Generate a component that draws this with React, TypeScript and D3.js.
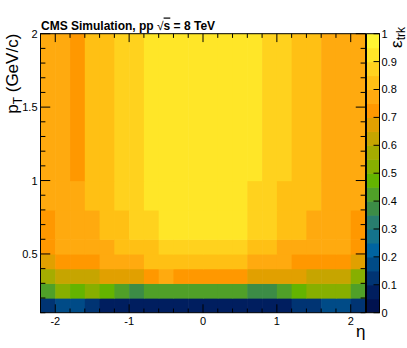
import React from "react";
import * as d3 from "d3";

// Bin edges
const etaEdges = [-2.2, -2.0, -1.8, -1.6, -1.4, -1.2, -1.0, -0.8, -0.6, -0.4, -0.2, 0.0, 0.2, 0.4, 0.6, 0.8, 1.0, 1.2, 1.4, 1.6, 1.8, 2.0, 2.2];
const ptEdges = [0.1, 0.2, 0.3, 0.4, 0.5, 0.6, 0.8, 1.0, 2.0];

// Efficiency per pT row (eta columns from -2.2 to 2.2)
const effPt0102 = [0.12, 0.17, 0.17, 0.12, 0.07, 0.07, 0.07, 0.07, 0.07, 0.07, 0.07, 0.07, 0.07, 0.07, 0.07, 0.07, 0.07, 0.12, 0.12, 0.17, 0.17, 0.12];
const effPt0203 = [0.42, 0.52, 0.47, 0.52, 0.47, 0.42, 0.37, 0.42, 0.42, 0.42, 0.42, 0.42, 0.42, 0.42, 0.37, 0.37, 0.42, 0.47, 0.52, 0.52, 0.52, 0.42];
const effPt0304 = [0.57, 0.62, 0.62, 0.62, 0.67, 0.67, 0.67, 0.72, 0.77, 0.72, 0.72, 0.72, 0.72, 0.72, 0.67, 0.67, 0.67, 0.67, 0.62, 0.62, 0.62, 0.52];
const effPt0405 = [0.67, 0.72, 0.72, 0.72, 0.77, 0.77, 0.77, 0.82, 0.82, 0.82, 0.82, 0.82, 0.82, 0.82, 0.77, 0.77, 0.77, 0.72, 0.72, 0.72, 0.72, 0.67];
const effPt0506 = [0.72, 0.77, 0.77, 0.77, 0.77, 0.82, 0.82, 0.82, 0.87, 0.87, 0.87, 0.87, 0.87, 0.87, 0.82, 0.82, 0.77, 0.77, 0.77, 0.77, 0.77, 0.72];
const effPt0608 = [0.72, 0.77, 0.77, 0.77, 0.82, 0.82, 0.87, 0.87, 0.92, 0.92, 0.92, 0.92, 0.92, 0.92, 0.87, 0.87, 0.82, 0.82, 0.77, 0.77, 0.77, 0.72];
const effPt0810 = [0.77, 0.77, 0.77, 0.82, 0.82, 0.87, 0.87, 0.92, 0.92, 0.92, 0.92, 0.92, 0.92, 0.92, 0.87, 0.87, 0.82, 0.82, 0.82, 0.77, 0.77, 0.77];
const effPt1020 = [0.77, 0.77, 0.72, 0.82, 0.82, 0.87, 0.87, 0.92, 0.92, 0.92, 0.92, 0.92, 0.92, 0.92, 0.92, 0.87, 0.87, 0.82, 0.82, 0.77, 0.77, 0.77];
const effRows = [effPt0102, effPt0203, effPt0304, effPt0405, effPt0506, effPt0608, effPt0810, effPt1020];

// Axis tick labels
const xTickValues = [-2, -1, 0, 1, 2];
const yTickValues = [0.5, 1, 1.5, 2];
const yTickLabels = ["0.5", "1", "1.5", "2"];
const zTickValues = [0, 0.1, 0.2, 0.3, 0.4, 0.5, 0.6, 0.7, 0.8, 0.9, 1];
const zTickLabels = ["0", "0.1", "0.2", "0.3", "0.4", "0.5", "0.6", "0.7", "0.8", "0.9", "1"];

// 20-level palette
const palette = [
  "#00124f", "#001e5f", "#003473", "#004b87", "#0064a0",
  "#14738c", "#287d6e", "#3c8c46", "#50a028", "#64b400",
  "#87af00", "#a5ac00", "#c6a500", "#e1a000", "#ff9800",
  "#ffaa0f", "#ffc014", "#ffd21e", "#ffe628", "#fff532",
];

export default function App() {
  const W = 407, H = 348;
  const L = 40.5, R = 365.5, T = 33.7, B = 312.7;
  const CBL = 366.5, CBR = 379.5;
  const font = "'Liberation Sans', Arial, Helvetica, sans-serif";

  const x = d3.scaleLinear().domain([-2.2, 2.2]).range([L, R]);
  const y = d3.scaleLinear().domain([0.1, 2]).range([B, T]);
  const z = d3.scaleLinear().domain([0, 1]).range([B, T]);
  const color = d3.scaleQuantize<string>().domain([0, 1]).range(palette);

  const xMinor = d3.range(0, 23).map((i) => -2.2 + i * 0.2);
  const yMinor = d3.range(0, 20).map((i) => 0.1 + i * 0.1);
  const isInt = (v: number) => Math.abs(v - Math.round(v)) < 1e-6;
  const isHalf = (v: number) => Math.abs(v * 2 - Math.round(v * 2)) < 1e-6;

  const cells: JSX.Element[] = [];
  const nCols = etaEdges.length - 1;
  const nRows = ptEdges.length - 1;
  effRows.forEach((row, r) => {
    row.forEach((v, c) => {
      const x0 = x(etaEdges[c]), x1 = x(etaEdges[c + 1]);
      const y0 = y(ptEdges[r + 1]), y1 = y(ptEdges[r]);
      const ox = c < nCols - 1 ? 0.6 : 0;
      const oy = r > 0 ? 0.6 : 0;
      cells.push(
        <rect key={`c${r}-${c}`} x={x0} y={y0} width={x1 - x0 + ox} height={y1 - y0 + oy} fill={color(v)} />
      );
    });
  });

  return (
    <svg width={W} height={H} style={{ position: "absolute", left: 0, top: 0, background: "#fff" }} fontFamily={font}>
      <rect x={0} y={0} width={W} height={H} fill="#fff" />
      {cells}
      {/* frame */}
      <rect x={L} y={T} width={R - L} height={B - T} fill="none" stroke="#000" strokeWidth={1} />
      {/* x ticks */}
      {xMinor.map((v, i) => {
        const len = isInt(v) ? 8.4 : 4.2;
        return (
          <g key={`xt${i}`}>
            <line x1={x(v)} x2={x(v)} y1={B} y2={B - len} stroke="#000" strokeWidth={1} />
            <line x1={x(v)} x2={x(v)} y1={T} y2={T + len} stroke="#000" strokeWidth={1} />
          </g>
        );
      })}
      {/* y ticks */}
      {yMinor.map((v, i) => {
        const len = isHalf(v) ? 9.75 : 4.9;
        return (
          <g key={`yt${i}`}>
            <line x1={L} x2={L + len} y1={y(v)} y2={y(v)} stroke="#000" strokeWidth={1} />
            <line x1={R} x2={R - len} y1={y(v)} y2={y(v)} stroke="#000" strokeWidth={1} />
          </g>
        );
      })}
      {/* x labels */}
      {xTickValues.map((v) => (
        <text key={`xl${v}`} x={x(v)} y={324.5} fontSize={11} textAnchor="middle">{v}</text>
      ))}
      {/* y labels */}
      {yTickValues.map((v, i) => (
        <text key={`yl${v}`} x={37.5} y={y(v)} dy="0.36em" fontSize={11} textAnchor="end">{yTickLabels[i]}</text>
      ))}
      {/* axis titles */}
      <text x={R} y={336.5} fontSize={17} textAnchor="end">η</text>
      <text transform={`translate(18,${T}) rotate(-90)`} fontSize={17} textAnchor="end">
        p<tspan fontSize={12} dy={3.5}>T</tspan><tspan dy={-3.5}> (GeV/c)</tspan>
      </text>
      {/* color bar */}
      {palette.map((c, i) => {
        const [a, b] = color.invertExtent(c);
        return <rect key={`cb${i}`} x={CBL} y={z(b as number)} width={CBR - CBL} height={z(a as number) - z(b as number) + (i > 0 ? 0.6 : 0)} fill={c} />;
      })}
      <rect x={CBL} y={T} width={CBR - CBL} height={B - T} fill="none" stroke="#000" strokeWidth={1} />
      {zTickValues.map((v, i) => (
        <g key={`zt${i}`}>
          <line x1={CBR - 6} x2={CBR} y1={z(v)} y2={z(v)} stroke="#000" strokeWidth={1} />
          <text x={381.5} y={z(v)} dy="0.36em" fontSize={11}>{zTickLabels[i]}</text>
        </g>
      ))}
      <text transform={`translate(401.5,27) rotate(-90)`} fontSize={17} textAnchor="end">
        ε<tspan fontSize={12} dy={3.5}>trk</tspan>
      </text>
      {/* title */}
      <text x={41} y={29.5} fontSize={12} fontWeight="bold">
        CMS Simulation, pp <tspan fontWeight="normal">√</tspan><tspan style={{ textDecoration: "overline" }}>s</tspan> = 8 TeV
      </text>
    </svg>
  );
}
